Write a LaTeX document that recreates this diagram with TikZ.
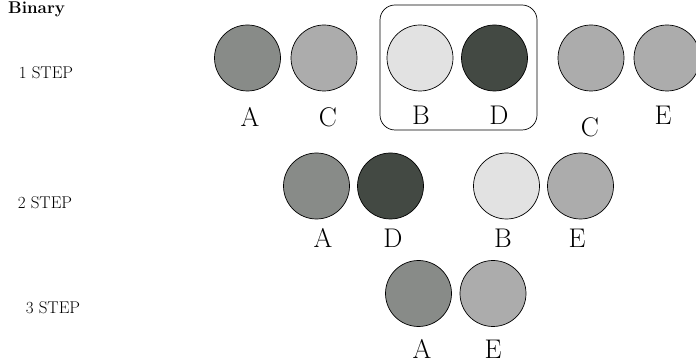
\documentclass[tikz,border=0pt]{standalone}
\usepackage{tikz}
\usetikzlibrary{positioning}

\definecolor{ballmid}{RGB}{136,139,136}
\definecolor{balllight}{RGB}{172,172,172}
\definecolor{ballpale}{RGB}{226,226,226}
\definecolor{balldark}{RGB}{67,73,67}

\begin{document}
\begin{tikzpicture}[x=1pt, y=-1pt,
    ball/.style={circle, draw, line width=0.7pt, minimum size=66pt, inner sep=0pt},
    letter/.style={font=\fontsize{27}{27}\selectfont, inner sep=0pt},
    steplabel/.style={font=\fontsize{17}{17}\selectfont, inner sep=0pt}]
    \useasboundingbox (0,0) rectangle (696,363);
    \clip (0,0) rectangle (696,363);

    % Title
    \node[anchor=base west, inner sep=0pt, font=\bfseries\fontsize{17}{17}\selectfont] (title) at (8,13.5) {Binary};

    % Step 1
    \node[steplabel] (step1) at (46,73) {1 STEP};
    \node[ball, fill=ballmid]   (a1) at (247.5,58) {};
    \node[ball, fill=balllight] (c1) at (324,58) {};
    \node[ball, fill=ballpale]  (b1) at (420,58) {};
    \node[ball, fill=balldark]  (d1) at (494.5,58) {};
    \node[ball, fill=balllight] (c2) at (591,58) {};
    \node[ball, fill=balllight] (e1) at (667,58) {};
    \draw[line width=0.7pt, rounded corners=15pt] (380,5) rectangle (537,130);
    \node[letter] (la1) at (250,117) {A};
    \node[letter] (lc1) at (328,117) {C};
    \node[letter] (lb1) at (421,115) {B};
    \node[letter] (ld1) at (499,115) {D};
    \node[letter] (lc2) at (590,127) {C};
    \node[letter] (le1) at (663,115) {E};

    % Step 2
    \node[steplabel] (step2) at (45,203) {2 STEP};
    \node[ball, fill=ballmid]   (a2) at (316.5,186) {};
    \node[ball, fill=balldark]  (d2) at (390.5,186) {};
    \node[ball, fill=ballpale]  (b2) at (506.5,186) {};
    \node[ball, fill=balllight] (e2) at (580.5,186) {};
    \node[letter] (la2) at (323,238) {A};
    \node[letter] (ld2) at (393,238) {D};
    \node[letter] (lb2) at (503,238) {B};
    \node[letter] (le2) at (577,238) {E};

    % Step 3
    \node[steplabel] (step3) at (53,308) {3 STEP};
    \node[ball, fill=ballmid]   (a3) at (418.5,293.5) {};
    \node[ball, fill=balllight] (e3) at (493,293.5) {};
    \node[letter] (la3) at (422,349) {A};
    \node[letter] (le3) at (493,349) {E};
\end{tikzpicture}
\end{document}
